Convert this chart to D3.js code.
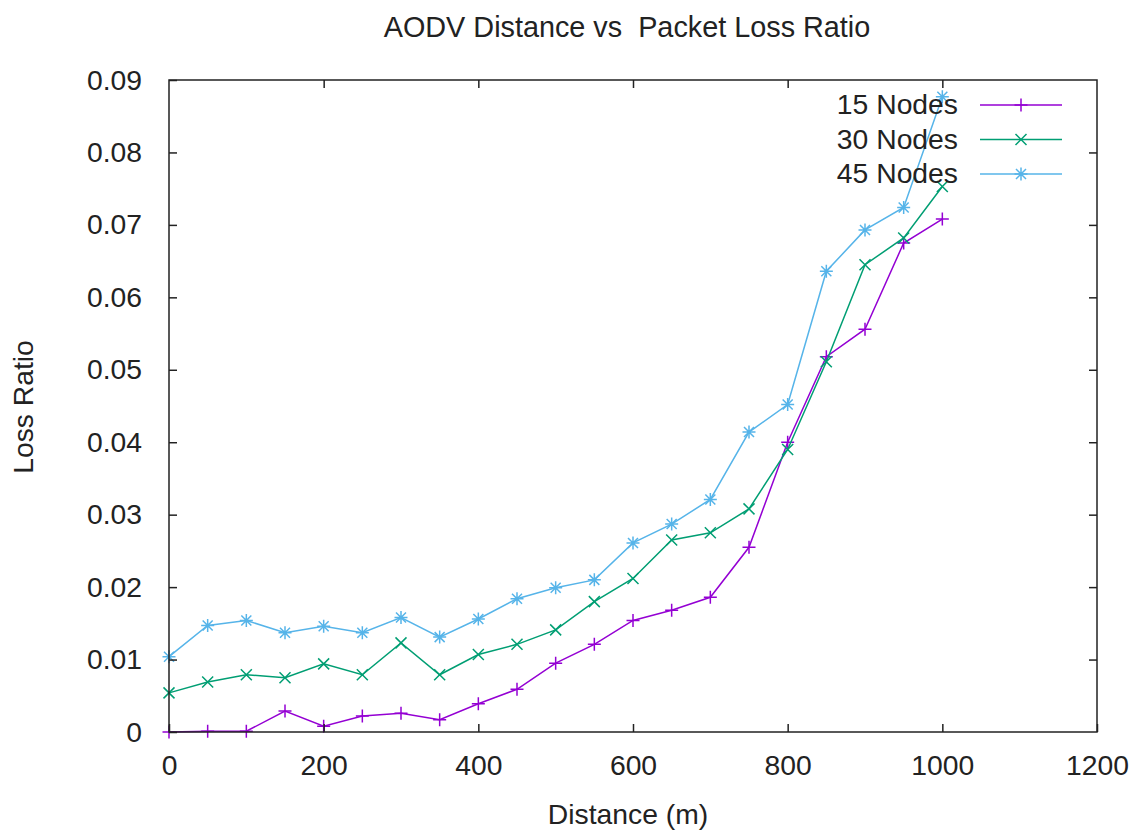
<!DOCTYPE html>
<html>
<head>
<meta charset="utf-8">
<script src="https://cdn.jsdelivr.net/npm/d3@7/dist/d3.min.js"></script>
<style>
  body { margin: 0; background: #fff; }
  svg { display: block; }
  text { font-family: "Liberation Sans", Arial, sans-serif; fill: #222; }
</style>
</head>
<body>
<svg id="chart" width="1134" height="830"></svg>
<script>
// Distance (m) at which each run was measured
const distances = [0, 50, 100, 150, 200, 250, 300, 350, 400, 450, 500,
                   550, 600, 650, 700, 750, 800, 850, 900, 950, 1000];

// Packet loss ratio per node count
const loss15 = [0.0000, 0.0001, 0.0001, 0.0029, 0.0008, 0.0022, 0.0026, 0.0017, 0.0039, 0.0059, 0.0095,
                0.0121, 0.0154, 0.0168, 0.0186, 0.0255, 0.0400, 0.0518, 0.0556, 0.0675, 0.0708];
const loss30 = [0.0054, 0.0069, 0.0079, 0.0075, 0.0094, 0.0079, 0.0123, 0.0079, 0.0107, 0.0121, 0.0141,
                0.0180, 0.0212, 0.0265, 0.0275, 0.0308, 0.0390, 0.0511, 0.0645, 0.0682, 0.0753];
const loss45 = [0.0104, 0.0147, 0.0154, 0.0137, 0.0146, 0.0137, 0.0158, 0.0131, 0.0156, 0.0184, 0.0199,
                0.0210, 0.0261, 0.0287, 0.0321, 0.0414, 0.0452, 0.0636, 0.0693, 0.0724, 0.0877];

const seriesNames = ["15 Nodes", "30 Nodes", "45 Nodes"];
const seriesColors = ["#9400d3", "#009e73", "#56b4e9"];
const seriesMarkers = ["plus", "cross", "star"];

const xTicks = [0, 200, 400, 600, 800, 1000, 1200];
const yTicks = [0, 0.01, 0.02, 0.03, 0.04, 0.05, 0.06, 0.07, 0.08, 0.09];

const titleText = "AODV Distance vs  Packet Loss Ratio";
const xLabel = "Distance (m)";
const yLabel = "Loss Ratio";

const series = [loss15, loss30, loss45].map((vals, i) => ({
  name: seriesNames[i],
  color: seriesColors[i],
  marker: seriesMarkers[i],
  points: distances.map((d, j) => ({ x: d, y: vals[j] }))
}));

const svg = d3.select("#chart");
const plotLeft = 169, plotRight = 1097, plotTop = 80, plotBottom = 732;
const fontSize = 28.3;
const titleSize = 28.8;

const x = d3.scaleLinear().domain([0, 1200]).range([plotLeft, plotRight]);
const y = d3.scaleLinear().domain([0, 0.09]).range([plotBottom, plotTop]);

const fmtY = v => v === 0 ? "0" : d3.format(".2f")(v);

// Marker glyphs in the usual point styles: +, x and *
const markerPath = {
  plus: "M-6.5,0H6.5M0,-6.5V6.5",
  cross: "M-5.5,-5.5L5.5,5.5M-5.5,5.5L5.5,-5.5",
  star: "M-6.5,0H6.5M0,-6.5V6.5M-5,-5L5,5M-5,5L5,-5"
};

// Series lines and point markers
const line = d3.line().x(d => x(d.x)).y(d => y(d.y));
const plot = svg.append("g");
series.forEach(s => {
  plot.append("path")
    .datum(s.points)
    .attr("d", line)
    .attr("fill", "none")
    .attr("stroke", s.color)
    .attr("stroke-width", 1.5);
  plot.selectAll(null)
    .data(s.points)
    .join("path")
    .attr("transform", d => `translate(${x(d.x)},${y(d.y)})`)
    .attr("d", markerPath[s.marker])
    .attr("fill", "none")
    .attr("stroke", s.color)
    .attr("stroke-width", 1.5);
});

// Inward ticks on all four sides
const tickLen = 8;
const styleAxis = g => {
  g.select(".domain").remove();
  g.selectAll(".tick line").attr("stroke", "#222").attr("stroke-width", 1.5);
  g.selectAll("text").attr("font-size", fontSize).attr("fill", "#222")
    .style("font-family", "'Liberation Sans', Arial, sans-serif");
};

svg.append("g")
  .attr("transform", `translate(0,${plotBottom})`)
  .call(d3.axisBottom(x).tickValues(xTicks).tickFormat(d3.format("d"))
    .tickSizeInner(-tickLen).tickSizeOuter(0).tickPadding(23))
  .call(styleAxis);

svg.append("g")
  .attr("transform", `translate(0,${plotTop})`)
  .call(d3.axisTop(x).tickValues(xTicks.slice(1, -1)).tickFormat("")
    .tickSizeInner(-tickLen).tickSizeOuter(0))
  .call(styleAxis);

svg.append("g")
  .attr("transform", `translate(${plotLeft},0)`)
  .call(d3.axisLeft(y).tickValues(yTicks).tickFormat(fmtY)
    .tickSizeInner(-tickLen).tickSizeOuter(0).tickPadding(27))
  .call(styleAxis);

svg.append("g")
  .attr("transform", `translate(${plotRight},0)`)
  .call(d3.axisRight(y).tickValues(yTicks.slice(1, -1)).tickFormat("")
    .tickSizeInner(-tickLen).tickSizeOuter(0))
  .call(styleAxis);

// Plot border
svg.append("rect")
  .attr("x", plotLeft).attr("y", plotTop)
  .attr("width", plotRight - plotLeft).attr("height", plotBottom - plotTop)
  .attr("fill", "none").attr("stroke", "#222").attr("stroke-width", 1.5);

// Titles
svg.append("text")
  .attr("x", 627).attr("y", 37)
  .attr("text-anchor", "middle")
  .attr("font-size", titleSize)
  .style("white-space", "pre")
  .text(titleText);

svg.append("text")
  .attr("x", 628).attr("y", 824)
  .attr("text-anchor", "middle")
  .attr("font-size", fontSize)
  .text(xLabel);

svg.append("text")
  .attr("transform", `translate(33,407) rotate(-90)`)
  .attr("text-anchor", "middle")
  .attr("font-size", fontSize)
  .text(yLabel);

// Legend, top right inside the plot
const legend = svg.append("g");
const legendRowY = d3.scaleLinear().domain([0, 1]).range([105, 139.5]);
series.forEach((s, i) => {
  const ry = legendRowY(i);
  legend.append("text")
    .attr("x", 958).attr("y", ry + 9)
    .attr("text-anchor", "end")
    .attr("font-size", fontSize)
    .text(s.name);
  legend.append("line")
    .attr("x1", 980).attr("x2", 1062)
    .attr("y1", ry).attr("y2", ry)
    .attr("stroke", s.color).attr("stroke-width", 1.5);
  legend.append("path")
    .attr("transform", `translate(1021,${ry})`)
    .attr("d", markerPath[s.marker])
    .attr("fill", "none")
    .attr("stroke", s.color).attr("stroke-width", 1.5);
});
</script>
</body>
</html>
